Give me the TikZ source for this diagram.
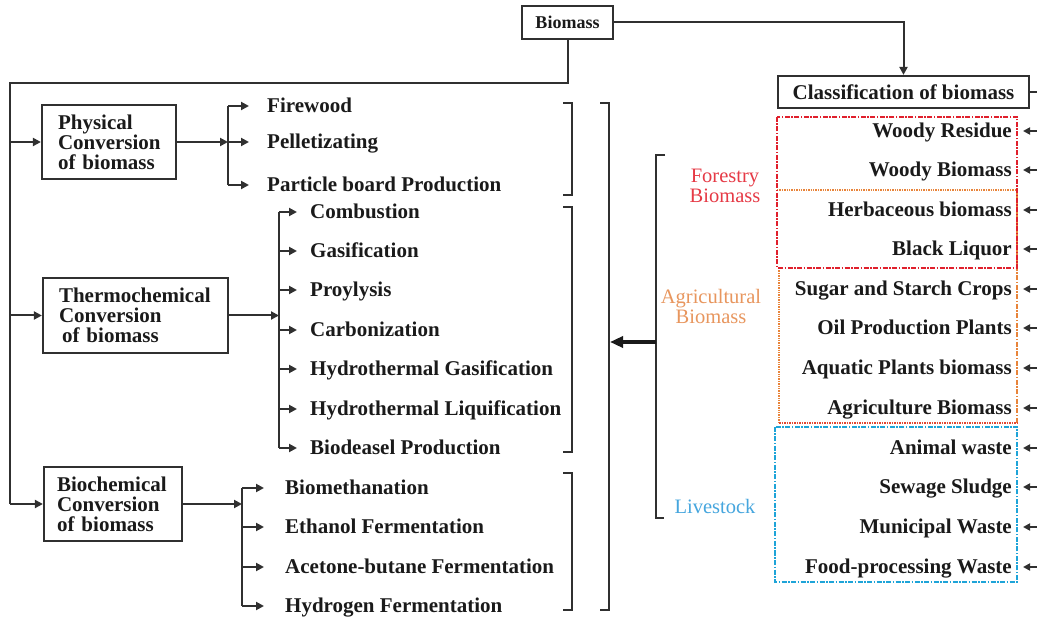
\documentclass[tikz,border=0pt]{standalone}
\usepackage{fontspec}
\setmainfont{Liberation Serif}
\usetikzlibrary{arrows.meta}
\definecolor{ln}{HTML}{303030}
\definecolor{txt}{HTML}{1A1A1A}
\definecolor{fred}{HTML}{E0202C}
\definecolor{forg}{HTML}{E8843A}
\definecolor{fcyan}{HTML}{1EA4D8}
\definecolor{lbred}{HTML}{E63A46}
\definecolor{lborg}{HTML}{E8965E}
\definecolor{lbcyan}{HTML}{46A6DE}
\tikzset{
  boxnode/.style={draw=ln, line width=2.2pt, inner ysep=0pt, align=left,
    font=\bfseries\fontsize{21}{20}\selectfont},
  item/.style={anchor=west, font=\bfseries\fontsize{21}{20}\selectfont,
    text height=13.9pt, text depth=0pt, inner ysep=0pt},
  ritem/.style={anchor=east, font=\bfseries\fontsize{21}{20}\selectfont,
    text height=13.9pt, text depth=0pt, inner ysep=0pt, inner xsep=11pt},
  lab/.style={align=center, font=\fontsize{20.5}{20}\selectfont},
  conn/.style={draw=ln, line width=2pt},
  arr/.style={conn, -{Triangle[length=8pt,width=8pt]}},
  rarr/.style={conn, -{Triangle[length=7pt,width=7pt]}},
  brk/.style={draw=ln, line width=2pt},
  dashdot/.style={line width=1.8pt, dash pattern=on 5pt off 1.5pt on 1.5pt off 1.5pt},
}
\begin{document}
\begin{tikzpicture}[x=1pt,y=-1pt, every node/.style={text=txt}]
\fill[white] (0,0) rectangle (1037,617);
\useasboundingbox (0,0) rectangle (1037,617);

% top boxes
\node[boxnode, font=\bfseries\fontsize{18}{20}\selectfont, minimum width=91pt, minimum height=33pt, inner xsep=0pt] (biomass) at (567.5,22.5) {Biomass};
\node[boxnode, minimum width=251pt, minimum height=32pt, inner xsep=0pt] (cls) at (903.5,92) {Classification of biomass};
\draw[arr] (biomass.east) -| (cls.north);
\coordinate (clsR) at (1037,92);
\draw[conn] (cls.east) -- (clsR);

% left conversion boxes
\node[boxnode, minimum width=134pt, minimum height=74pt, text width=102pt, inner xsep=16pt] (phys) at (109,142) {Physical\\Conversion\\of biomass};
\node[boxnode, minimum width=185pt, minimum height=75pt, text width=153pt, inner xsep=16pt] (thermo) at (135.5,315.5) {Thermochemical\\Conversion\\\hspace*{3pt}of biomass};
\node[boxnode, minimum width=138pt, minimum height=74pt, text width=112pt, inner xsep=13pt] (biochem) at (113,504) {Biochemical\\Conversion\\of biomass};

% trunk from Biomass
\coordinate (tA) at (567.5,83);
\coordinate (tB) at (10,83);
\coordinate (tP) at (10,142);
\coordinate (tT) at (10,315.5);
\coordinate (tC) at (10,504);
\draw[conn] (biomass.south) -- (tA) -- (tB) -- (tC);
\draw[arr] (tP) -- (phys.west);
\draw[arr] (tT) -- (thermo.west);
\draw[arr] (tC) -- (biochem.west);

% physical items
\node[item, inner xsep=18pt] (p1) at (249,106) {Firewood};
\node[item, inner xsep=18pt] (p2) at (249,142) {Pelletizating};
\node[item, inner xsep=18pt] (p3) at (249,185) {Particle board Production};
\coordinate (pj1) at (228,106);
\coordinate (pj2) at (228,142);
\coordinate (pj3) at (228,185);
\draw[arr] (phys.east) -- (pj2);
\draw[conn] (pj1) -- (pj3);
\draw[arr] (pj1) -- (p1.west);
\draw[arr] (pj2) -- (p2.west);
\draw[arr] (pj3) -- (p3.west);

% thermochemical items
\node[item, inner xsep=13pt] (t1) at (297,212) {Combustion};
\node[item, inner xsep=13pt] (t2) at (297,251) {Gasification};
\node[item, inner xsep=13pt] (t3) at (297,290) {Proylysis};
\node[item, inner xsep=13pt] (t4) at (297,330) {Carbonization};
\node[item, inner xsep=13pt] (t5) at (297,369) {Hydrothermal Gasification};
\node[item, inner xsep=13pt] (t6) at (297,409) {Hydrothermal Liquification};
\node[item, inner xsep=13pt] (t7) at (297,448) {Biodeasel Production};
\coordinate (tj0) at (279,315.5);
\coordinate (tj1) at (279,212);
\coordinate (tj2) at (279,251);
\coordinate (tj3) at (279,290);
\coordinate (tj4) at (279,330);
\coordinate (tj5) at (279,369);
\coordinate (tj6) at (279,409);
\coordinate (tj7) at (279,448);
\draw[arr] (thermo.east) -- (tj0);
\draw[conn] (tj1) -- (tj7);
\draw[arr] (tj1) -- (t1.west);
\draw[arr] (tj2) -- (t2.west);
\draw[arr] (tj3) -- (t3.west);
\draw[arr] (tj4) -- (t4.west);
\draw[arr] (tj5) -- (t5.west);
\draw[arr] (tj6) -- (t6.west);
\draw[arr] (tj7) -- (t7.west);

% biochemical items
\node[item, inner xsep=21pt] (b1) at (264,488) {Biomethanation};
\node[item, inner xsep=21pt] (b2) at (264,527) {Ethanol Fermentation};
\node[item, inner xsep=21pt] (b3) at (264,567) {Acetone-butane Fermentation};
\node[item, inner xsep=21pt] (b4) at (264,606) {Hydrogen Fermentation};
\coordinate (bj0) at (242,504);
\coordinate (bj1) at (242,488);
\coordinate (bj2) at (242,527);
\coordinate (bj3) at (242,567);
\coordinate (bj4) at (242,606);
\draw[arr] (biochem.east) -- (bj0);
\draw[conn] (bj1) -- (bj4);
\draw[arr] (bj1) -- (b1.west);
\draw[arr] (bj2) -- (b2.west);
\draw[arr] (bj3) -- (b3.west);
\draw[arr] (bj4) -- (b4.west);

% brackets
\draw[brk] (563,103) -- (572,103) -- (572,195) -- (563,195);
\draw[brk] (563,207) -- (572,207) -- (572,452) -- (563,452);
\draw[brk] (563,473) -- (572,473) -- (572,610) -- (563,610);
\draw[brk] (600,103) -- (609,103) -- (609,610) -- (600,610);
\draw[brk] (665,155) -- (656,155) -- (656,518) -- (664,518);
\coordinate (fbA) at (656,342);
\coordinate (fbB) at (610,342);
\draw[draw=txt, line width=3.2pt, -{Triangle[length=13pt,width=11pt]}] (fbA) -- (fbB);

% category labels
\node[lab, text=lbred] (lforest) at (725,186) {Forestry\\Biomass};
\node[lab, text=lborg] (lagri) at (711,306) {Agricultural\\Biomass};
\node[lab, text=lbcyan, text height=13.6pt, text depth=0pt] (llive) at (715,507) {Livestock};

% grouping frames
\draw[forg, dashdot] (1017,190) -- (1017,423);
\draw[forg, line width=1.4pt, densely dotted] (777,190) -- (1017,190);
\draw[forg, line width=1.4pt, densely dotted] (779,268) -- (779,423);
\draw[fred!60!forg, line width=1.5pt, densely dotted] (779,423) -- (1017,423);
\draw[fred, dashdot] (777,117) rectangle (1017,268);
\draw[fcyan, dashdot] (775,427) rectangle (1017,582);

% classification items
\node[ritem] (r1) at (1023,131) {Woody Residue};
\node[ritem] (r2) at (1023,170) {Woody Biomass};
\node[ritem] (r3) at (1023,210) {Herbaceous biomass};
\node[ritem] (r4) at (1023,249) {Black Liquor};
\node[ritem] (r5) at (1023,289) {Sugar and Starch Crops};
\node[ritem] (r6) at (1023,328) {Oil Production Plants};
\node[ritem] (r7) at (1023,368) {Aquatic Plants biomass};
\node[ritem] (r8) at (1023,408) {Agriculture Biomass};
\node[ritem] (r9) at (1023,448) {Animal waste};
\node[ritem] (r10) at (1023,487) {Sewage Sludge};
\node[ritem] (r11) at (1023,527) {Municipal Waste};
\node[ritem] (r12) at (1023,567) {Food-processing Waste};
\coordinate (e1) at (1037,131);
\coordinate (e2) at (1037,170);
\coordinate (e3) at (1037,210);
\coordinate (e4) at (1037,249);
\coordinate (e5) at (1037,289);
\coordinate (e6) at (1037,328);
\coordinate (e7) at (1037,368);
\coordinate (e8) at (1037,408);
\coordinate (e9) at (1037,448);
\coordinate (e10) at (1037,487);
\coordinate (e11) at (1037,527);
\coordinate (e12) at (1037,567);
\draw[rarr] (e1) -- (r1.east);
\draw[rarr] (e2) -- (r2.east);
\draw[rarr] (e3) -- (r3.east);
\draw[rarr] (e4) -- (r4.east);
\draw[rarr] (e5) -- (r5.east);
\draw[rarr] (e6) -- (r6.east);
\draw[rarr] (e7) -- (r7.east);
\draw[rarr] (e8) -- (r8.east);
\draw[rarr] (e9) -- (r9.east);
\draw[rarr] (e10) -- (r10.east);
\draw[rarr] (e11) -- (r11.east);
\draw[rarr] (e12) -- (r12.east);
\end{tikzpicture}
\end{document}
